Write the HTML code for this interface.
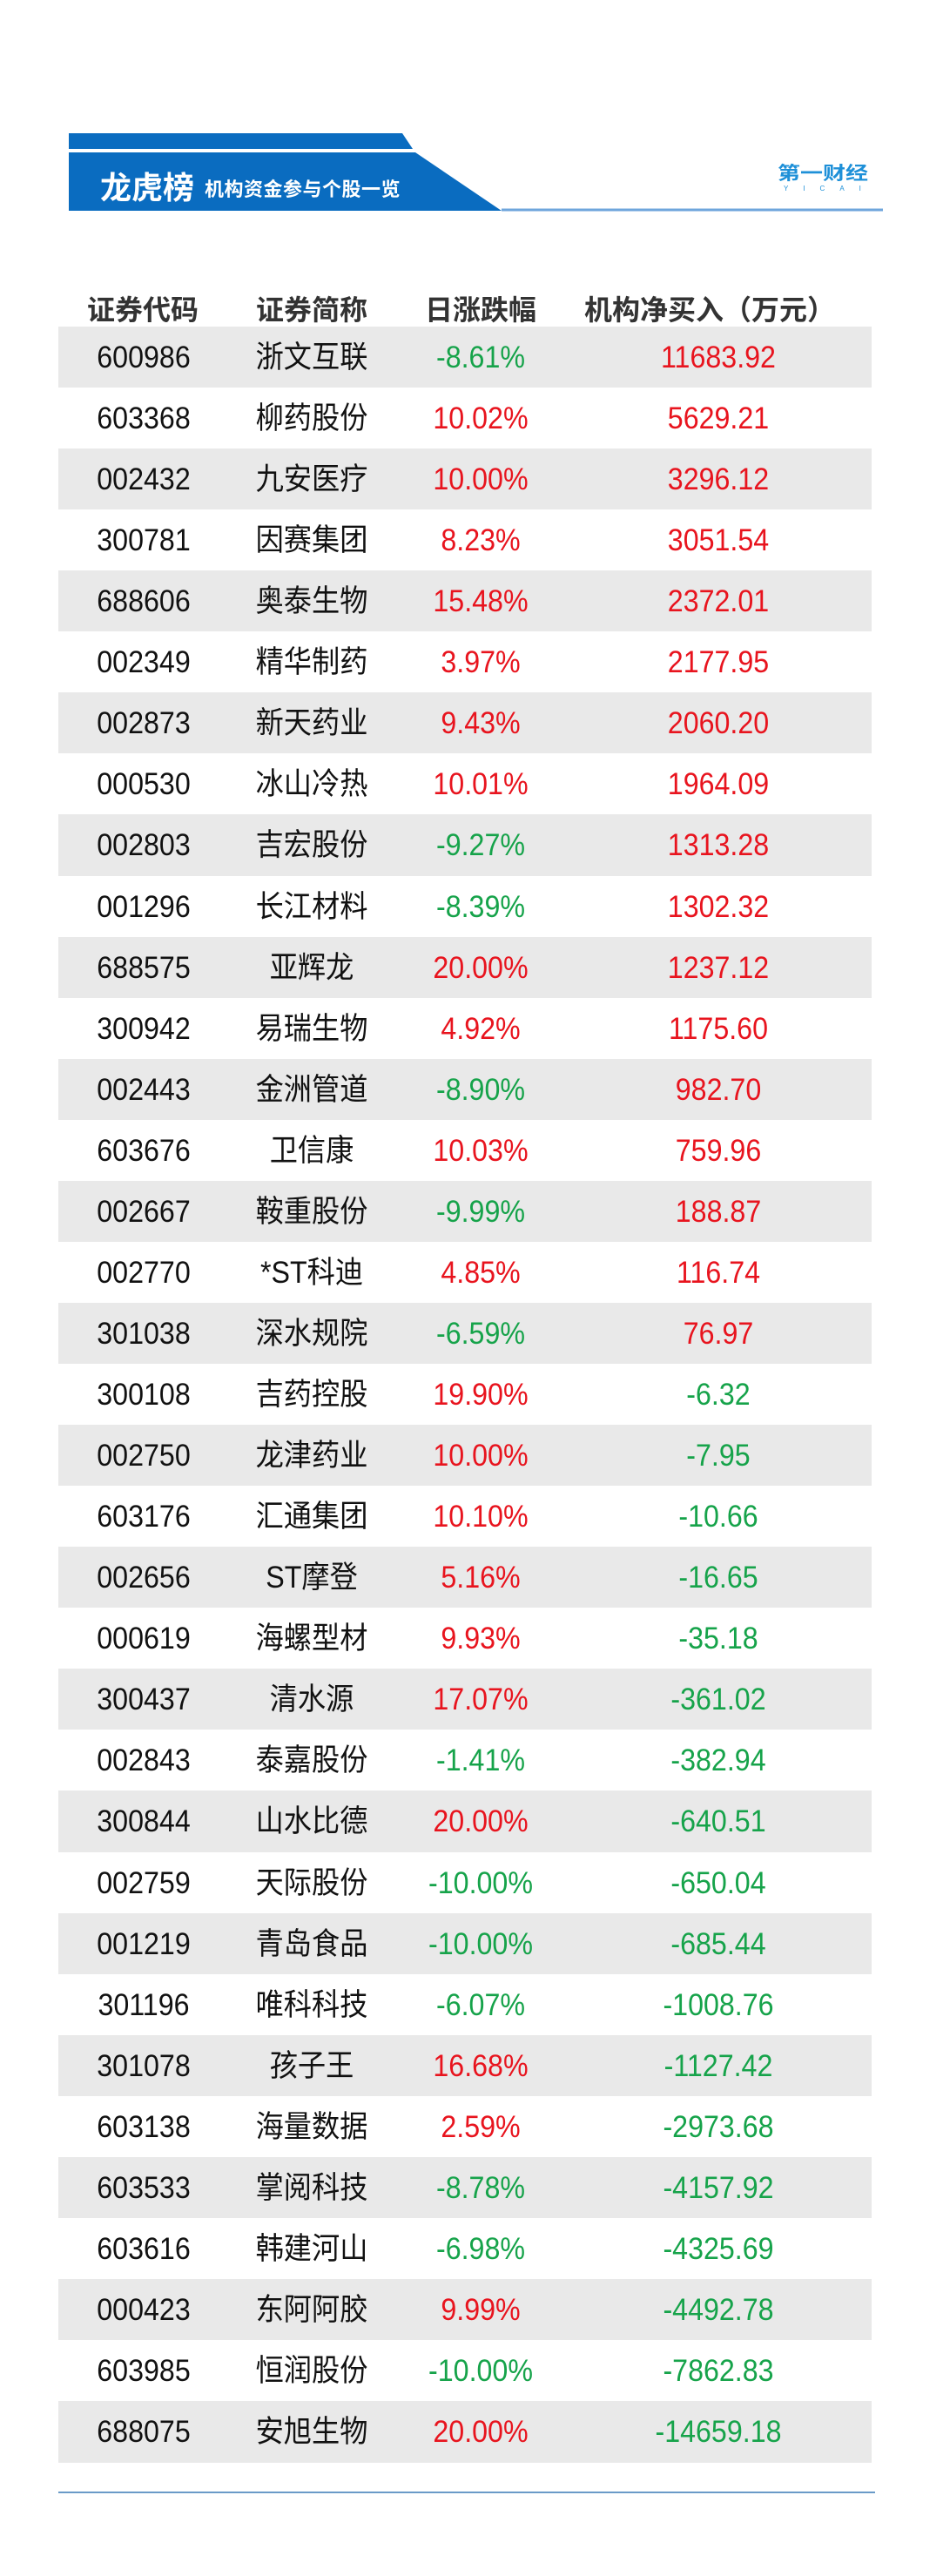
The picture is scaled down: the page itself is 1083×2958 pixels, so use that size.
<!DOCTYPE html>
<html><head><meta charset="utf-8"><style>
*{margin:0;padding:0;box-sizing:border-box}
body{width:1083px;height:2958px;background:#fff;position:relative;overflow:hidden;font-family:"Liberation Sans","Noto Sans CJK SC",sans-serif}
.abs{position:absolute;white-space:nowrap}
.h{top:331px;font-size:32px;font-weight:bold;color:#333;transform:translateX(-50%)}
.row{position:absolute;left:67px;width:934px;height:71px}
.c{position:absolute;top:0;line-height:71px;font-size:35px;transform:translateX(-50%) scaleX(0.92);white-space:nowrap}
.g{color:#16a34a}.r{color:#e8141e}.k{color:#111}
</style></head><body>
<svg class="abs" style="left:0;top:0" width="1083" height="260">
<polygon points="79,153 462,153 474,171 79,171" fill="#0a6cc0"/>
<polygon points="79,175 477,175 576,242 79,242" fill="#0a6cc0"/>
<line x1="576" y1="241" x2="1014" y2="241" stroke="#6fa6dc" stroke-width="3"/>
</svg>
<div class="abs" style="left:115px;top:187px;font-size:36px;font-weight:bold;color:#fff">龙虎榜</div>
<div class="abs" style="left:235px;top:200px;font-size:22px;font-weight:bold;color:#fff;letter-spacing:0.5px">机构资金参与个股一览</div>
<div class="abs" style="left:893px;top:183px;font-size:26px;font-weight:bold;color:#1e90d8;transform:scaleY(0.8);transform-origin:top left">第一财经</div>
<div class="abs" style="left:900px;top:212px;font-size:8px;color:#1e90d8;letter-spacing:17px">YICAI</div>
<div class="abs h" style="left:164px">证券代码</div>
<div class="abs h" style="left:358px">证券简称</div>
<div class="abs h" style="left:552px">日涨跌幅</div>
<div class="abs h" style="left:815px">机构净买入（万元）</div>
<div id="t"></div>
<div class="abs" style="left:67px;top:2861px;width:938px;height:2px;background:#6a9bc8"></div>
<script>
var d=[["600986","浙文互联","-8.61%","11683.92"],["603368","柳药股份","10.02%","5629.21"],["002432","九安医疗","10.00%","3296.12"],["300781","因赛集团","8.23%","3051.54"],["688606","奥泰生物","15.48%","2372.01"],["002349","精华制药","3.97%","2177.95"],["002873","新天药业","9.43%","2060.20"],["000530","冰山冷热","10.01%","1964.09"],["002803","吉宏股份","-9.27%","1313.28"],["001296","长江材料","-8.39%","1302.32"],["688575","亚辉龙","20.00%","1237.12"],["300942","易瑞生物","4.92%","1175.60"],["002443","金洲管道","-8.90%","982.70"],["603676","卫信康","10.03%","759.96"],["002667","鞍重股份","-9.99%","188.87"],["002770","*ST科迪","4.85%","116.74"],["301038","深水规院","-6.59%","76.97"],["300108","吉药控股","19.90%","-6.32"],["002750","龙津药业","10.00%","-7.95"],["603176","汇通集团","10.10%","-10.66"],["002656","ST摩登","5.16%","-16.65"],["000619","海螺型材","9.93%","-35.18"],["300437","清水源","17.07%","-361.02"],["002843","泰嘉股份","-1.41%","-382.94"],["300844","山水比德","20.00%","-640.51"],["002759","天际股份","-10.00%","-650.04"],["001219","青岛食品","-10.00%","-685.44"],["301196","唯科科技","-6.07%","-1008.76"],["301078","孩子王","16.68%","-1127.42"],["603138","海量数据","2.59%","-2973.68"],["603533","掌阅科技","-8.78%","-4157.92"],["603616","韩建河山","-6.98%","-4325.69"],["000423","东阿阿胶","9.99%","-4492.78"],["603985","恒润股份","-10.00%","-7862.83"],["688075","安旭生物","20.00%","-14659.18"]];
var h="";
d.forEach(function(r,i){var top=375+i*70.06;
var c1=r[2][0]=="-"?"g":"r",c2=r[3][0]=="-"?"g":"r";
h+='<div class="row" style="top:'+top+'px;background:'+(i%2==0?'#e9e9e9':'#fff')+'">'+
'<div class="c k" style="left:98px">'+r[0]+'</div>'+
'<div class="c k" style="left:291px">'+r[1]+'</div>'+
'<div class="c '+c1+'" style="left:485px">'+r[2]+'</div>'+
'<div class="c '+c2+'" style="left:758px">'+r[3]+'</div></div>';});
document.getElementById("t").innerHTML=h;
</script>
</body></html>
